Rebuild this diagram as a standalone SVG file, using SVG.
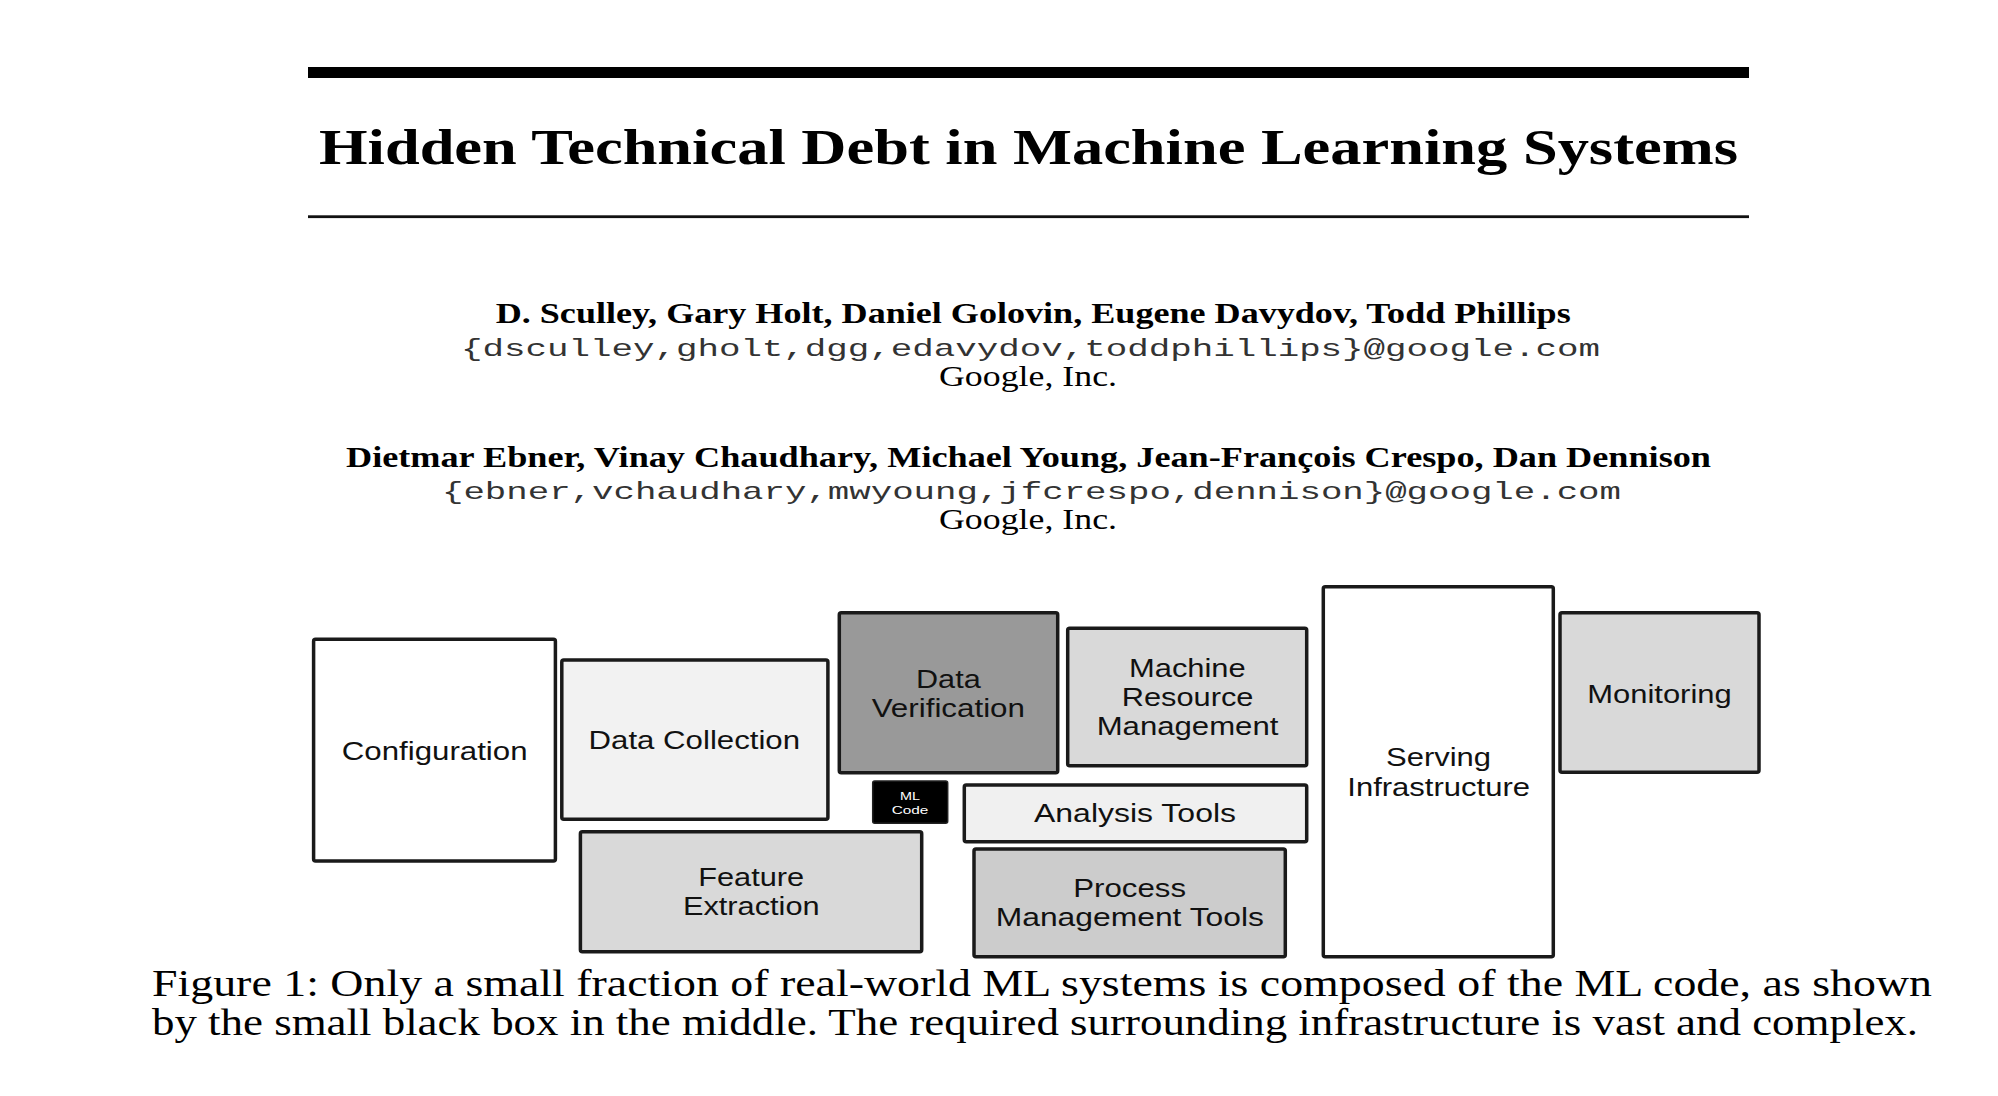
<svg xmlns="http://www.w3.org/2000/svg" width="1998" height="1096" viewBox="0 0 1998 1096">
<style>
  .serif { font-family: "Liberation Serif", "Times New Roman", serif; fill: #000; }
  .bold { font-weight: bold; }
  .mono { font-family: "Liberation Mono", "Courier New", monospace; fill: #333; }
  .box { stroke: #1a1a1a; stroke-width: 3.5; }
  .lbl { font-family: "Liberation Sans", Arial, sans-serif; font-size: 26px; fill: #111; }
  .small { font-family: "Liberation Sans", Arial, sans-serif; font-size: 11.5px; fill: #fff; }
</style>
<rect x="0" y="0" width="1998" height="1096" fill="#fff"/>

<g id="header">
  <rect x="308" y="67" width="1441" height="11" fill="#000"/>
  <text class="serif bold" x="319" y="164.3" font-size="51" textLength="1419" lengthAdjust="spacingAndGlyphs">Hidden Technical Debt in Machine Learning Systems</text>
  <rect x="308" y="215.3" width="1441" height="2.8" fill="#111"/>
  <text class="serif bold" x="495.7" y="323.3" font-size="29" textLength="1075" lengthAdjust="spacingAndGlyphs">D. Sculley, Gary Holt, Daniel Golovin, Eugene Davydov, Todd Phillips</text>
  <text class="mono" x="461" y="355.5" font-size="24" textLength="1139" lengthAdjust="spacingAndGlyphs">{dsculley,gholt,dgg,edavydov,toddphillips}@google.com</text>
  <text class="serif" x="939" y="386" font-size="29" textLength="178" lengthAdjust="spacingAndGlyphs">Google, Inc.</text>
  <text class="serif bold" x="346" y="466.7" font-size="29" textLength="1365" lengthAdjust="spacingAndGlyphs">Dietmar Ebner, Vinay Chaudhary, Michael Young, Jean-François Crespo, Dan Dennison</text>
  <text class="mono" x="442" y="499" font-size="24" textLength="1179" lengthAdjust="spacingAndGlyphs">{ebner,vchaudhary,mwyoung,jfcrespo,dennison}@google.com</text>
  <text class="serif" x="939" y="529" font-size="29" textLength="178" lengthAdjust="spacingAndGlyphs">Google, Inc.</text>
</g>

<g id="connectors"></g>

<g id="configuration">
  <rect class="box" x="313.6" y="639.3" width="241.8" height="221.7" rx="2" fill="#ffffff"/>
  <text class="lbl" x="341.8" y="760" textLength="185.7" lengthAdjust="spacingAndGlyphs">Configuration</text>
</g>
<g id="data-collection">
  <rect class="box" x="561.8" y="660" width="266.1" height="159.3" rx="2" fill="#f2f2f2"/>
  <text class="lbl" x="588.6" y="749.3" textLength="211.4" lengthAdjust="spacingAndGlyphs">Data Collection</text>
</g>
<g id="feature-extraction">
  <rect class="box" x="580.4" y="831.7" width="341.3" height="120" rx="2" fill="#d9d9d9"/>
  <text class="lbl" x="698.2" y="886" textLength="106" lengthAdjust="spacingAndGlyphs">Feature</text>
  <text class="lbl" x="682.9" y="915" textLength="136.7" lengthAdjust="spacingAndGlyphs">Extraction</text>
</g>
<g id="data-verification">
  <rect class="box" x="839.3" y="612.7" width="218.4" height="160" rx="2" fill="#999999"/>
  <text class="lbl" x="916" y="687.7" textLength="64.7" lengthAdjust="spacingAndGlyphs">Data</text>
  <text class="lbl" x="871.7" y="716.7" textLength="153.3" lengthAdjust="spacingAndGlyphs">Verification</text>
</g>
<g id="ml-code">
  <rect x="872.7" y="781" width="75" height="42.3" rx="2" fill="#000" stroke="#222" stroke-width="1.5"/>
  <text class="small" x="900" y="800" textLength="20" lengthAdjust="spacingAndGlyphs">ML</text>
  <text class="small" x="891.7" y="814" textLength="36.7" lengthAdjust="spacingAndGlyphs">Code</text>
</g>
<g id="machine-resource-management">
  <rect class="box" x="1067.7" y="628.3" width="239" height="137.4" rx="2" fill="#d9d9d9"/>
  <text class="lbl" x="1129" y="677.3" textLength="116.7" lengthAdjust="spacingAndGlyphs">Machine</text>
  <text class="lbl" x="1121.7" y="706" textLength="131.7" lengthAdjust="spacingAndGlyphs">Resource</text>
  <text class="lbl" x="1096.7" y="735" textLength="181.7" lengthAdjust="spacingAndGlyphs">Management</text>
</g>
<g id="analysis-tools">
  <rect class="box" x="964.3" y="785" width="342.4" height="56.7" rx="2" fill="#f0f0f0"/>
  <text class="lbl" x="1034" y="822.3" textLength="202" lengthAdjust="spacingAndGlyphs">Analysis Tools</text>
</g>
<g id="process-management-tools">
  <rect class="box" x="974" y="849" width="311.3" height="107.7" rx="2" fill="#cccccc"/>
  <text class="lbl" x="1073.3" y="896.7" textLength="112.7" lengthAdjust="spacingAndGlyphs">Process</text>
  <text class="lbl" x="995.7" y="925.7" textLength="268.3" lengthAdjust="spacingAndGlyphs">Management Tools</text>
</g>
<g id="serving-infrastructure">
  <rect class="box" x="1323.3" y="586.7" width="230" height="370" rx="2" fill="#ffffff"/>
  <text class="lbl" x="1386" y="766" textLength="105" lengthAdjust="spacingAndGlyphs">Serving</text>
  <text class="lbl" x="1347.3" y="795.7" textLength="182.7" lengthAdjust="spacingAndGlyphs">Infrastructure</text>
</g>
<g id="monitoring">
  <rect class="box" x="1560" y="612.7" width="199" height="159.6" rx="2" fill="#d9d9d9"/>
  <text class="lbl" x="1587.3" y="702.7" textLength="144.4" lengthAdjust="spacingAndGlyphs">Monitoring</text>
</g>

<g id="caption">
  <text class="serif" x="152" y="996" font-size="37" textLength="1780" lengthAdjust="spacingAndGlyphs">Figure 1: Only a small fraction of real-world ML systems is composed of the ML code, as shown</text>
  <text class="serif" x="152" y="1035" font-size="37" textLength="1766" lengthAdjust="spacingAndGlyphs">by the small black box in the middle. The required surrounding infrastructure is vast and complex.</text>
</g>
</svg>
